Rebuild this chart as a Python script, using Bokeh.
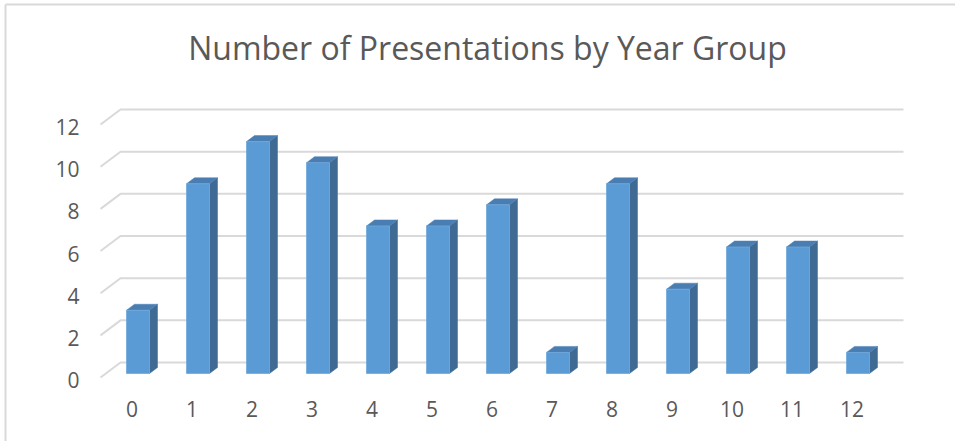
from bokeh.plotting import figure
from bokeh.models import Range1d
from bokeh.core.properties import value
from bokeh.embed import file_html
from bokeh.resources import INLINE

# ---- data ----
categories = ["0", "1", "2", "3", "4", "5", "6", "7", "8", "9", "10", "11", "12"]
counts = [3, 9, 11, 10, 7, 7, 8, 1, 9, 4, 6, 6, 1]
y_ticks = [0, 2, 4, 6, 8, 10, 12]
title_text = "Number of Presentations by Year Group"

# ---- geometry (pixel scale of the layout) ----
W, H = 955, 441
X0, SX = 137.5, 60.0      # pixel x of category 0 centre, pixels per category
Y0, SY = 373.0, 21.08     # pixel y of value 0 on bar front plane, pixels per unit

def X(px):
    return (px - X0) / SX

def Y(py):
    return (Y0 - py) / SY

BAR_W = 23 / SX
DX, DY = 8 / SX, 6 / SY           # bar depth
BY = 11 / SY                      # back wall raise from bar plane
FRONT_DROP = 15 / SY              # floor diagonal
FRONT_SHIFT = 20 / SX

FONT = "Open Sans"
TXT = "#595959"
GRID = "#d9d9d9"

p = figure(width=W, height=H, output_backend="svg", toolbar_location=None,
           x_range=Range1d(X(0), X(W)), y_range=Range1d(Y(H), Y(0)),
           min_border=0, outline_line_color=None, background_fill_color="white",
           border_fill_color="white")
p.axis.visible = False
p.grid.visible = False

# chart frame (top and left edges visible)
p.line([X(5), X(W)], [Y(4), Y(4)], line_color=GRID, line_width=2)
p.line([X(5), X(5)], [Y(4), Y(H)], line_color=GRID, line_width=2)

# gridlines (back wall + floor diagonal)
xl_back, xr_back = X(120), X(903)
gx, gy = [], []
for t in y_ticks:
    gx.append([xl_back - FRONT_SHIFT, xl_back, xr_back])
    gy.append([t + BY - FRONT_DROP, t + BY, t + BY])
p.multi_line(gx, gy, line_color=GRID, line_width=2)

# y tick labels
p.text(x=[X(79)] * len(y_ticks), y=[t + BY - FRONT_DROP - 2.5 / SY for t in y_ticks],
       text=[str(t) for t in y_ticks], text_align="right", text_baseline="middle",
       text_font=value(FONT), text_font_size="21px", text_color=TXT)

# bars
xs = list(range(len(categories)))
left = [x - BAR_W / 2 for x in xs]
right = [x + BAR_W / 2 for x in xs]

side_xs = [[r, r + DX, r + DX, r] for r in right]
side_ys = [[0, DY, v + DY, v] for v in counts]
top_xs = [[l, l + DX, r + DX, r] for l, r in zip(left, right)]
top_ys = [[v, v + DY, v + DY, v] for v in counts]

p.patches(side_xs, side_ys, fill_color="#3E6A94", line_color="#3E6A94", line_width=0.5)
p.patches(top_xs, top_ys, fill_color="#4A7EB2", line_color="#4A7EB2", line_width=0.5)
p.quad(left=left, right=right, bottom=0, top=counts,
       fill_color="#5B9BD5", line_color="#6FA8DC", line_width=0.8)

# x tick labels
p.text(x=[x - 6 / SX for x in xs], y=[Y(408)] * len(xs), text=categories,
       text_align="center", text_baseline="middle",
       text_font=value(FONT), text_font_size="21px", text_color=TXT)

# title
p.text(x=[X(487)], y=[Y(47)], text=[title_text], text_align="center",
       text_baseline="middle", text_font=value(FONT), text_font_size="32px",
       text_color=TXT)

open("out.html", "w").write(file_html(p, INLINE))
